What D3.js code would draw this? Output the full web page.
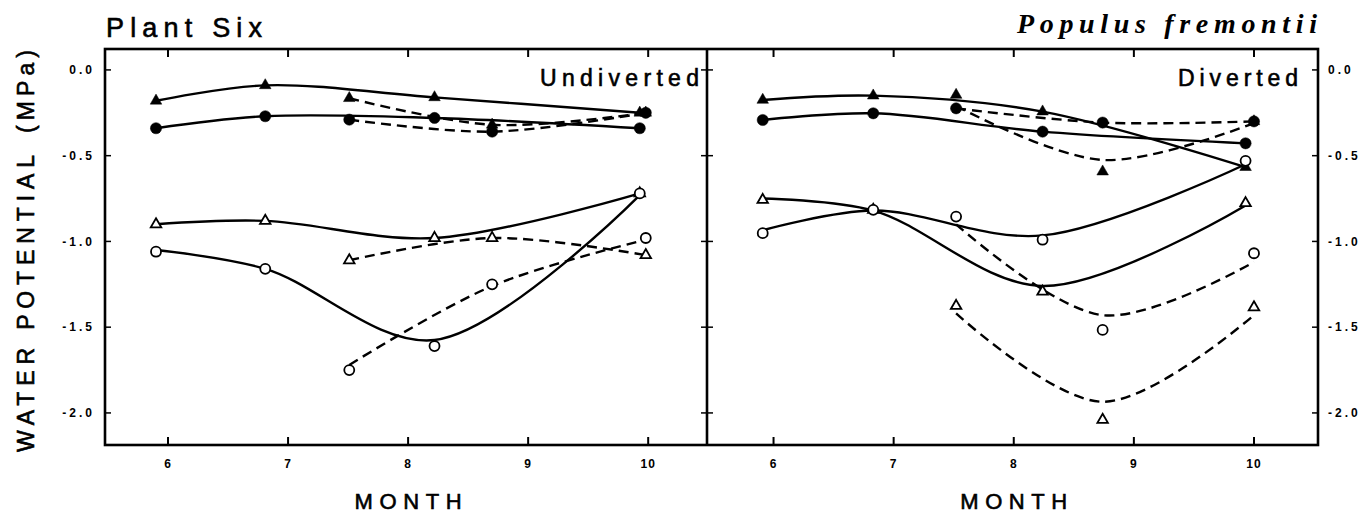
<!DOCTYPE html>
<html><head><meta charset="utf-8">
<script src="https://cdn.jsdelivr.net/npm/d3@7"></script>
<style>body{margin:0;background:#fff}</style>
</head><body>
<svg id="c" width="1365" height="516"></svg>
<script>
// ---------- axis data ----------
const monthTicks = [6, 7, 8, 9, 10];
const monthTickLabels = ["6", "7", "8", "9", "10"];
const yTicks = [0, -0.5, -1.0, -1.5, -2.0];
const yTickLabels = ["0.0", "-0.5", "-1.0", "-1.5", "-2.0"];

// ---------- Undiverted (left panel) ----------
const uSolidMonths = [5.90, 6.81, 8.22, 9.93];
const uDashMonths = [7.51, 8.70, 9.98];
const uFilledTriSolid = [-0.18, -0.09, -0.16, -0.25];
const uFilledCircSolid = [-0.34, -0.27, -0.28, -0.34];
const uOpenTriSolid = [-0.90, -0.88, -0.98, -0.72];
const uOpenCircSolid = [-1.06, -1.16, -1.61, -0.72];
const uOpenCircSolidFit = [-1.05, -1.16, -1.575, -0.73];
const uFilledTriDash = [-0.165, -0.32, -0.25];
const uFilledCircDash = [-0.29, -0.36, -0.25];
const uOpenTriDash = [-1.11, -0.98, -1.08];
const uOpenCircDash = [-1.75, -1.25, -0.98];
const uOpenCircDashFit = [-1.72, -1.26, -0.99];

// ---------- Diverted (right panel) ----------
const dSolidMonths = [5.91, 6.83, 8.24, 9.93];
const dDashMonths = [7.52, 8.74, 10.0];
const dFilledTriSolid = [-0.175, -0.15, -0.243, -0.567];
const dFilledCircSolid = [-0.292, -0.253, -0.36, -0.428];
const dOpenTriSolid = [-0.758, -0.816, -1.293, -0.777];
const dOpenTriSolidFit = [-0.75, -0.82, -1.26, -0.79];
const dOpenCircSolid = [-0.952, -0.816, -0.99, -0.53];
const dOpenCircSolidFit = [-0.935, -0.82, -0.965, -0.55];
const dFilledTriDash = [-0.146, -0.593, -0.30];
const dFilledTriDashFit = [-0.21, -0.525, -0.31];
const dFilledCircDash = [-0.224, -0.307, -0.30];
const dOpenCircDash = [-0.855, -1.516, -1.069];
const dOpenCircDashFit = [-0.90, -1.43, -1.12];
const dOpenTriDash = [-1.376, -2.04, -1.384];
const dOpenTriDashFit = [-1.42, -1.935, -1.43];

// ---------- layout ----------
const svg = d3.select("#c");
const yTop = 49, yBottom = 445;
const y = d3.scaleLinear().domain([0.122, -2.187]).range([yTop, yBottom]);
const panels = [
  { name: "Undiverted", x: d3.scaleLinear().domain([5.475, 10.49]).range([105, 707]),
    labelX: 540, labelLen: 159,
    series: [
      { m: uSolidMonths, v: uFilledTriSolid, f: uFilledTriSolid, sym: "tri", filled: true, dash: false },
      { m: uSolidMonths, v: uFilledCircSolid, f: uFilledCircSolid, sym: "circ", filled: true, dash: false },
      { m: uSolidMonths, v: uOpenTriSolid, f: uOpenTriSolid, sym: "tri", filled: false, dash: false },
      { m: uSolidMonths, v: uOpenCircSolid, f: uOpenCircSolidFit, sym: "circ", filled: false, dash: false },
      { m: uDashMonths, v: uFilledTriDash, f: uFilledTriDash, sym: "tri", filled: true, dash: true },
      { m: uDashMonths, v: uFilledCircDash, f: uFilledCircDash, sym: "circ", filled: true, dash: true },
      { m: uDashMonths, v: uOpenTriDash, f: uOpenTriDash, sym: "tri", filled: false, dash: true },
      { m: uDashMonths, v: uOpenCircDash, f: uOpenCircDashFit, sym: "circ", filled: false, dash: true }
    ] },
  { name: "Diverted", x: d3.scaleLinear().domain([5.446, 10.533]).range([707, 1318]),
    labelX: 1178, labelLen: 120,
    series: [
      { m: dSolidMonths, v: dFilledTriSolid, f: dFilledTriSolid, sym: "tri", filled: true, dash: false },
      { m: dSolidMonths, v: dFilledCircSolid, f: dFilledCircSolid, sym: "circ", filled: true, dash: false },
      { m: dSolidMonths, v: dOpenTriSolid, f: dOpenTriSolidFit, sym: "tri", filled: false, dash: false },
      { m: dSolidMonths, v: dOpenCircSolid, f: dOpenCircSolidFit, sym: "circ", filled: false, dash: false },
      { m: dDashMonths, v: dFilledTriDash, f: dFilledTriDashFit, sym: "tri", filled: true, dash: true },
      { m: dDashMonths, v: dFilledCircDash, f: dFilledCircDash, sym: "circ", filled: true, dash: true },
      { m: dDashMonths, v: dOpenCircDash, f: dOpenCircDashFit, sym: "circ", filled: false, dash: true },
      { m: dDashMonths, v: dOpenTriDash, f: dOpenTriDashFit, sym: "tri", filled: false, dash: true }
    ] }
];

const sans = "'Liberation Sans', Arial, Helvetica, sans-serif";

function bigText(sel) {
  return sel.attr("font-family", sans).attr("fill", "#000")
    .attr("stroke", "#000").attr("stroke-width", 0.6);
}

panels.forEach((p) => {
  const g = svg.append("g");
  const [x0, x1] = p.x.range();
  // ticks
  g.selectAll(".xtb").data(monthTicks).join("line").attr("class", "xtb")
    .attr("x1", d => p.x(d)).attr("x2", d => p.x(d))
    .attr("y1", yBottom).attr("y2", yBottom - 8).attr("stroke", "#000").attr("stroke-width", 2);
  g.selectAll(".xtt").data(monthTicks).join("line").attr("class", "xtt")
    .attr("x1", d => p.x(d)).attr("x2", d => p.x(d))
    .attr("y1", yTop).attr("y2", yTop + 8).attr("stroke", "#000").attr("stroke-width", 2);
  g.selectAll(".ytl").data(yTicks).join("line").attr("class", "ytl")
    .attr("x1", x0).attr("x2", x0 + 6).attr("y1", d => y(d)).attr("y2", d => y(d))
    .attr("stroke", "#000").attr("stroke-width", 1.5);
  g.selectAll(".ytr").data(yTicks).join("line").attr("class", "ytr")
    .attr("x1", x1).attr("x2", x1 - 6).attr("y1", d => y(d)).attr("y2", d => y(d))
    .attr("stroke", "#000").attr("stroke-width", 1.5);
  // x tick labels
  g.selectAll(".xl").data(monthTicks).join("text").attr("class", "xl")
    .attr("x", d => p.x(d)).attr("y", 468).attr("text-anchor", "middle")
    .attr("font-family", sans).attr("font-weight", "bold").attr("font-size", 12)
    .attr("letter-spacing", 1)
    .text((d, i) => monthTickLabels[i]);
  // MONTH
  bigText(g.append("text")).attr("x", p.x(8) - 53.5).attr("y", 509)
    .attr("font-size", 22)
    .attr("textLength", 107).attr("lengthAdjust", "spacing").text("MONTH");
  // panel label
  bigText(g.append("text")).attr("x", p.labelX).attr("y", 86)
    .attr("font-size", 23)
    .attr("textLength", p.labelLen).attr("lengthAdjust", "spacing").text(p.name);

  const line = d3.line().x(d => p.x(d[0])).y(d => y(d[1])).curve(d3.curveCatmullRom.alpha(0.5));
  // lines
  p.series.forEach(s => {
    const pts = s.m.map((m, i) => [m, s.f[i]]);
    g.append("path").attr("d", line(pts)).attr("fill", "none")
      .attr("stroke", "#000").attr("stroke-width", 2.4)
      .attr("stroke-dasharray", s.dash ? "10,6" : null);
  });
  // markers
  p.series.forEach(s => {
    s.m.forEach((m, i) => {
      const cx = p.x(m), cy = y(s.v[i]);
      if (s.sym === "circ") {
        g.append("circle").attr("cx", cx).attr("cy", cy).attr("r", s.filled ? 5.6 : 5)
          .attr("fill", s.filled ? "#000" : "#fff").attr("stroke", "#000").attr("stroke-width", s.filled ? 0.5 : 1.8);
      } else {
        g.append("path").attr("d", d3.symbol(d3.symbolTriangle, s.filled ? 58 : 48)())
          .attr("transform", `translate(${cx},${cy})`)
          .attr("fill", s.filled ? "#000" : "#fff").attr("stroke", "#000").attr("stroke-width", s.filled ? 0.5 : 1.8);
      }
    });
  });
});

// y tick labels
svg.selectAll(".yl").data(yTicks).join("text").attr("class", "yl")
  .attr("x", 95).attr("y", d => y(d)).attr("dy", "0.35em").attr("text-anchor", "end")
  .attr("font-family", sans).attr("font-weight", "bold").attr("font-size", 12)
  .attr("letter-spacing", 3)
  .text((d, i) => yTickLabels[i]);
svg.selectAll(".yr").data(yTicks).join("text").attr("class", "yr")
  .attr("x", 1328).attr("y", d => y(d)).attr("dy", "0.35em").attr("text-anchor", "start")
  .attr("font-family", sans).attr("font-weight", "bold").attr("font-size", 12)
  .attr("letter-spacing", 3)
  .text((d, i) => yTickLabels[i]);

// frame
svg.append("rect").attr("x", 105).attr("y", yTop).attr("width", 1318 - 105).attr("height", yBottom - yTop)
  .attr("fill", "none").attr("stroke", "#000").attr("stroke-width", 2.6);
svg.append("line").attr("x1", 707).attr("x2", 707).attr("y1", yTop).attr("y2", yBottom)
  .attr("stroke", "#000").attr("stroke-width", 2.6);

// titles
bigText(svg.append("text")).attr("x", 106).attr("y", 37).attr("font-size", 27)
  .attr("textLength", 156).attr("lengthAdjust", "spacing").text("Plant Six");
svg.append("text").attr("x", 1017).attr("y", 33)
  .attr("font-family", "'Liberation Serif', 'Times New Roman', serif")
  .attr("font-style", "italic").attr("font-weight", "bold").attr("font-size", 28)
  .attr("textLength", 300).attr("lengthAdjust", "spacing").text("Populus fremontii");

// y axis title
bigText(svg.append("text")).attr("transform", "translate(34,452) rotate(-90)")
  .attr("font-size", 23)
  .attr("textLength", 297).attr("lengthAdjust", "spacing").text("WATER POTENTIAL");
bigText(svg.append("text")).attr("transform", "translate(34,133) rotate(-90)")
  .attr("font-size", 23)
  .attr("textLength", 83).attr("lengthAdjust", "spacing").text("(MPa)");
</script>
</body></html>
